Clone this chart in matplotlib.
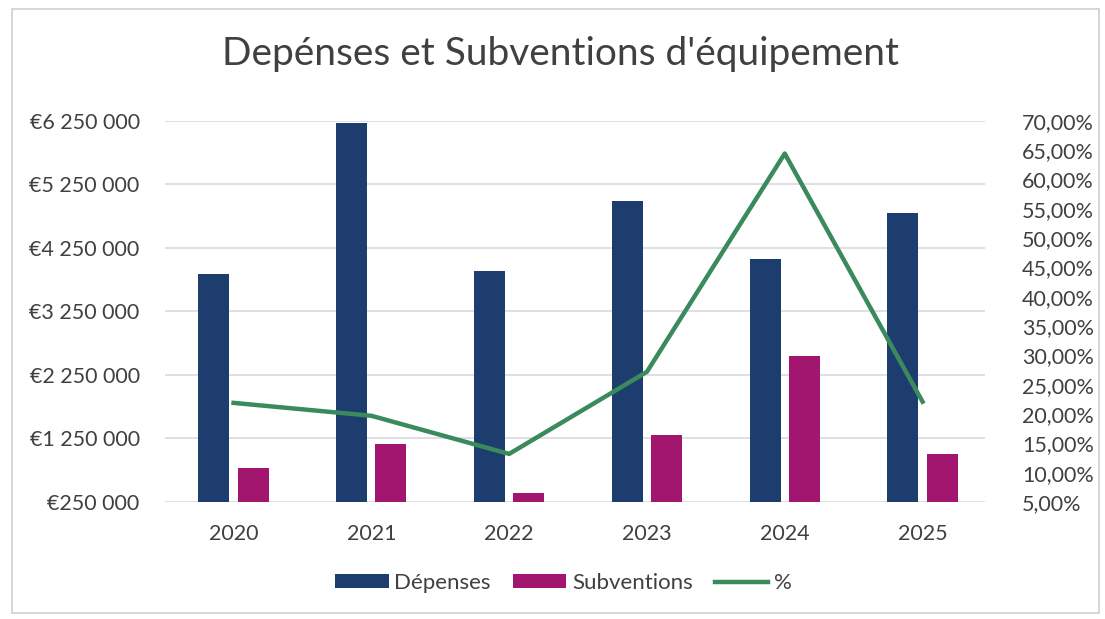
import matplotlib.pyplot as plt
import numpy as np
from matplotlib.patches import Rectangle

# data
years = ["2020", "2021", "2022", "2023", "2024", "2025"]
depenses = [3830000, 6210000, 3880000, 4990000, 4070000, 4800000]
subventions = [790000, 1155000, 390000, 1300000, 2540000, 1000000]
pourcent = [21.9, 19.7, 13.2, 27.2, 64.4, 22.1]

left_ticks = [250000, 1250000, 2250000, 3250000, 4250000, 5250000, 6250000]
right_ticks = list(range(5, 75, 5))

NAVY = "#1d3d6e"
MAGENTA = "#a3166f"
GREEN = "#3a8a5e"
TEXT = "#404040"

plt.rcParams["font.family"] = ["Lato", "DejaVu Sans"]

fig = plt.figure(figsize=(11.05, 6.19), dpi=100)
fig.patches.append(Rectangle((0.011, 0.01), 0.984, 0.975, transform=fig.transFigure,
                             fill=False, edgecolor="#cfcfcf", linewidth=1.2))

ax = fig.add_axes([0.149, 0.189, 0.742, 0.616])
x = np.arange(len(years))
w = 0.225
ax.bar(x - 0.142, np.array(depenses) - left_ticks[0], w, bottom=left_ticks[0],
       color=NAVY, label="Dépenses", zorder=3)
ax.bar(x + 0.142, np.array(subventions) - left_ticks[0], w, bottom=left_ticks[0],
       color=MAGENTA, label="Subventions", zorder=3)

ax.set_xlim(-0.5, 5.45)
ax.set_ylim(left_ticks[0], left_ticks[-1])
ax.set_yticks(left_ticks)
ax.set_yticklabels(["€" + f"{v:,}".replace(",", " ") for v in left_ticks])
ax.set_xticks(x)
ax.set_xticklabels(years)
ax.grid(axis="y", color="#d9d9e0", linewidth=1.2, zorder=0)
for s in ax.spines.values():
    s.set_visible(False)
ax.tick_params(length=0, labelsize=15.5, colors=TEXT, pad=16)
ax.tick_params(axis="y", pad=18)

ax2 = ax.twinx()
ax2.plot(x, pourcent, color=GREEN, linewidth=3.2, label="%", zorder=4)
ax2.set_ylim(5, 70)
ax2.set_yticks(right_ticks)
ax2.set_yticklabels([f"{v:.2f}%".replace(".", ",") for v in right_ticks])
for s in ax2.spines.values():
    s.set_visible(False)
ax2.tick_params(length=0, labelsize=15.5, colors=TEXT, pad=27)

fig.text(0.507, 0.912, "Depénses et Subventions d'équipement", ha="center", va="center",
         fontsize=28, color=TEXT)

h1, l1 = ax.get_legend_handles_labels()
h2, l2 = ax2.get_legend_handles_labels()
fig.legend(h1 + h2, l1 + l2, loc="center", bbox_to_anchor=(0.51, 0.058), ncol=3,
           frameon=False, fontsize=16, labelcolor=TEXT, handlelength=2.4,
           handleheight=0.6, handletextpad=0.25, columnspacing=1.0)

fig.savefig("out.png", dpi=100)
